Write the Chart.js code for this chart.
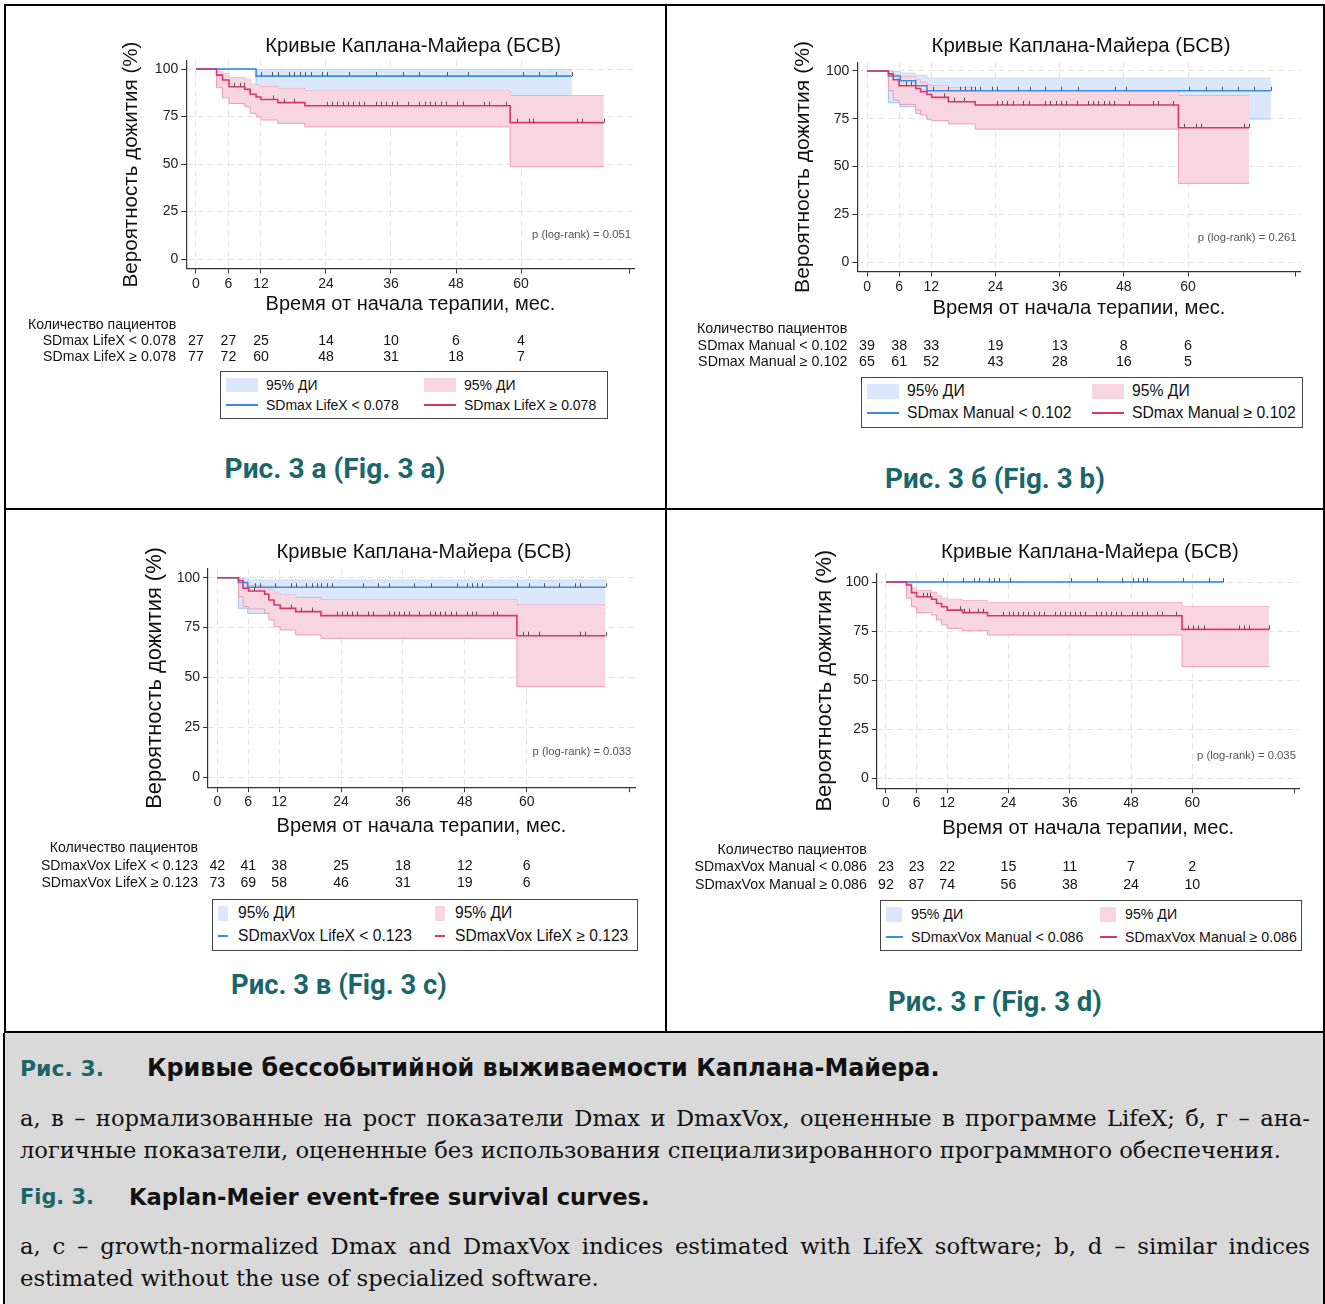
<!DOCTYPE html>
<html lang="ru">
<head>
<meta charset="utf-8">
<title>Кривые Каплана-Майера (БСВ)</title>
<script src="https://cdn.jsdelivr.net/npm/chart.js@4.4.1/dist/chart.umd.min.js"></script>
<style>
  html, body { margin: 0; padding: 0; background: #fff; }
  body { position: relative; width: 1325px; height: 1304px; overflow: hidden; font-family: "Liberation Sans", Arial, sans-serif; color: #111; }
  canvas { position: absolute; }
  .frame { position: absolute; left: 4px; top: 4px; width: 1317px; height: 1025px; border: 2px solid #000; }
  .vdiv { position: absolute; left: 665px; top: 4px; width: 2px; height: 1029px; background: #000; }
  .hdiv { position: absolute; left: 4px; top: 508px; width: 1321px; height: 2px; background: #000; }
  .capbox { position: absolute; left: 3px; top: 1033px; width: 1318px; height: 275px; background: #d9d9d9; border-left: 2px solid #000; border-right: 2px solid #000; }
  .t { position: absolute; white-space: nowrap; line-height: 1; }
  .mid { transform: translate(-50%, -50%); }
  .lft { transform: translateY(-50%); }
  .lbl { font-family: Roboto, sans-serif; font-weight: 700; color: #19666b; font-size: 24px; }
  .head { font-family: "DejaVu Sans", sans-serif; font-weight: 700; font-size: 22px; color: #111; }
  .teal { color: #19666b; }
  .body { font-family: "DejaVu Serif", serif; font-size: 19px; color: #111; }
  .just { white-space: normal; width: 1290px; text-align: justify; text-align-last: justify; }
  .legend { position: absolute; border: 1px solid #444; background: #fff; box-sizing: border-box; }
  .legend div { position: absolute; white-space: nowrap; line-height: 1; }
</style>
</head>
<body>
<div class="frame"></div>
<div class="vdiv"></div>
<div class="hdiv"></div>
<div class="capbox"></div>

<div class="t lft head teal" id="h1a" style="left:20px;top:1069px">Рис. 3.</div>
<div class="t lft head" id="h1b" style="left:147px;top:1069px">Кривые бессобытийной выживаемости Каплана-Майера.</div>
<div class="t lft body just" id="ru1" style="left:20px;top:1118px">а, в – нормализованные на рост показатели Dmax и DmaxVox, оцененные в программе LifeX; б, г – ана-</div>
<div class="t lft body" id="ru2" style="left:20px;top:1150px">логичные показатели, оцененные без использования специализированного программного обеспечения.</div>
<div class="t lft head teal" id="h2a" style="left:20px;top:1197px">Fig. 3.</div>
<div class="t lft head" id="h2b" style="left:129px;top:1197px">Kaplan-Meier event-free survival curves.</div>
<div class="t lft body just" id="en1" style="left:20px;top:1246px">a, c – growth-normalized Dmax and DmaxVox indices estimated with LifeX software; b, d – similar indices</div>
<div class="t lft body" id="en2" style="left:20px;top:1278px">estimated without the use of specialized software.</div>

<script>
const FONT = '"Liberation Sans", Arial, sans-serif';

const chartTitle = 'Кривые Каплана-Майера (БСВ)';
const xTitle = 'Время от начала терапии, мес.';
const yTitle = 'Вероятность дожития (%)';
const riskHeader = 'Количество пациентов';
const ciLabel = '95% ДИ';

const xTickValues = [0, 6, 12, 24, 36, 48, 60, 80];
const yTickValues = [0, 25, 50, 75, 100];
const riskTimes = [0, 6, 12, 24, 36, 48, 60];
const pValues = ['0.051', '0.261', '0.033', '0.035'];
const panelCaptions = ['Рис. 3 а (Fig. 3 a)', 'Рис. 3 б (Fig. 3 b)', 'Рис. 3 в (Fig. 3 c)', 'Рис. 3 г (Fig. 3 d)'];

// Рис. 3 а — SDmax LifeX
const aLabels = ['SDmax LifeX < 0.078', 'SDmax LifeX ≥ 0.078'];
const aRiskLow = [27, 27, 25, 14, 10, 6, 4];
const aRiskHigh = [77, 72, 60, 48, 31, 18, 7];
const aLowT = [0, 11.1, 69.4];
const aLowS = [100, 96.3, 96.3];
const aLowU = [100, 99.5, 99.5];
const aLowL = [100, 76.5, 76.5];
const aLowC = [12.0, 14.0, 15.1, 17.2, 18.1, 19.2, 20.1, 21.2, 23.3, 24.2, 28.2, 33.2, 38.3, 41.2, 46.3, 50.3, 60.4, 63.4, 66.4, 69.4];
const aHighT = [0, 3.8, 4.9, 6.1, 9.0, 10.0, 11.1, 12.0, 15.1, 20.1, 58.0, 75.3];
const aHighS = [100, 96.8, 94.2, 90.7, 89.3, 86.7, 85.3, 84.0, 82.3, 80.7, 71.8, 71.8];
const aHighU = [100, 98.9, 97.7, 95.4, 94.7, 92.0, 91.5, 90.7, 89.8, 88.4, 86.0, 86.0];
const aHighL = [100, 90.2, 84.9, 81.9, 80.2, 76.7, 74.9, 73.2, 71.4, 69.6, 48.6, 48.6];
const aHighC = [7.1, 8.1, 8.9, 14.2, 16.2, 18.1, 24.1, 25.1, 26.1, 27.1, 28.1, 29.0, 30.1, 31.1, 33.2, 34.2, 35.1, 36.1, 37.2, 39.1, 41.2, 42.2, 43.2, 44.2, 45.2, 46.2, 48.1, 49.2, 53.2, 54.1, 57.2, 59.3, 61.4, 62.3, 70.4, 71.3, 75.3];

// Рис. 3 б — SDmax Manual
const bLabels = ['SDmax Manual < 0.102', 'SDmax Manual ≥ 0.102'];
const bRiskLow = [39, 38, 33, 19, 13, 8, 6];
const bRiskHigh = [65, 61, 52, 43, 28, 16, 5];
const bLowT = [0, 4.0, 6.2, 9.1, 11.2, 75.5];
const bLowS = [100, 97.4, 94.9, 92.3, 89.7, 89.7];
const bLowU = [100, 99.6, 98.8, 97.4, 96.2, 96.2];
const bLowL = [100, 83.4, 81.3, 77.8, 74.9, 74.9];
const bLowC = [12.3, 15.2, 17.4, 18.3, 19.4, 20.2, 21.2, 23.3, 24.2, 28.3, 30.5, 33.3, 36.2, 39.4, 46.4, 48.4, 60.1, 63.4, 66.4, 69.4, 72.3, 75.5];
const bHighT = [0, 4.0, 4.9, 6.0, 9.1, 10.0, 11.2, 12.1, 15.2, 20.2, 58.2, 71.4];
const bHighS = [100, 98.5, 95.4, 92.3, 90.8, 89.2, 87.7, 86.2, 83.9, 82.2, 70.3, 70.3];
const bHighU = [100, 99.6, 97.9, 97.0, 95.3, 93.9, 92.7, 92.1, 91.3, 89.5, 87.1, 87.1];
const bHighL = [100, 89.7, 84.8, 82.5, 79.6, 77.0, 74.7, 74.0, 72.3, 69.6, 41.2, 41.2];
const bHighC = [7.3, 8.3, 14.3, 16.3, 18.2, 24.2, 25.2, 26.2, 27.2, 29.2, 30.2, 33.3, 34.2, 35.3, 36.2, 37.2, 39.2, 41.3, 42.3, 43.2, 44.3, 45.3, 46.2, 49.0, 53.4, 54.3, 57.1, 59.3, 61.4, 62.4, 70.5, 71.4];

// Рис. 3 в — SDmaxVox LifeX
const cLabels = ['SDmaxVox LifeX < 0.123', 'SDmaxVox LifeX ≥ 0.123'];
const cRiskLow = [42, 41, 38, 25, 18, 12, 6];
const cRiskHigh = [73, 69, 58, 46, 31, 19, 6];
const cLowT = [0, 4.1, 5.9, 75.3];
const cLowS = [100, 97.6, 95.2, 95.2];
const cLowU = [100, 99.7, 98.7, 98.7];
const cLowL = [100, 84.7, 82.1, 82.1];
const cLowC = [7.3, 8.3, 11.2, 14.2, 15.2, 17.3, 18.3, 19.3, 20.2, 21.3, 22.3, 28.3, 31.2, 33.3, 38.2, 41.4, 46.4, 48.4, 49.3, 50.3, 51.4, 58.2, 60.4, 63.4, 66.3, 69.4, 70.3, 75.3];
const cHighT = [0, 4.1, 5.0, 6.1, 9.2, 10.0, 11.0, 12.2, 15.2, 20.1, 58.1, 75.3];
const cHighS = [100, 98.6, 94.7, 93.3, 91.7, 88.8, 86.3, 84.6, 83.0, 81.0, 70.9, 70.9];
const cHighU = [100, 99.7, 97.2, 96.0, 94.9, 93.8, 92.2, 91.3, 90.0, 88.8, 86.3, 86.3];
const cHighL = [100, 90.5, 85.5, 84.3, 82.1, 78.8, 75.4, 73.8, 71.3, 69.6, 45.4, 45.4];
const cHighC = [7.2, 14.2, 16.2, 18.3, 23.2, 24.1, 25.1, 26.1, 27.1, 29.3, 30.1, 33.3, 34.3, 35.2, 36.2, 37.2, 39.2, 41.2, 42.2, 43.2, 44.2, 45.3, 46.3, 48.4, 49.3, 50.2, 53.4, 54.3, 59.3, 60.3, 62.3, 70.3, 71.3, 75.3];

// Рис. 3 г — SDmaxVox Manual
const dLabels = ['SDmaxVox Manual < 0.086', 'SDmaxVox Manual ≥ 0.086'];
const dRiskLow = [23, 23, 22, 15, 11, 7, 2];
const dRiskHigh = [92, 87, 74, 56, 38, 24, 10];
const dLowT = [0, 66.1];
const dLowS = [100, 100];
const dLowU = [100, 100];
const dLowL = [100, 100];
const dLowC = [11.1, 15.1, 17.2, 18.3, 20.2, 21.2, 22.2, 24.2, 36.2, 41.3, 46.2, 48.3, 49.3, 50.3, 51.2, 58.1, 63.2, 66.1];
const dHighT = [0, 4.0, 5.0, 6.0, 8.9, 9.9, 10.9, 12.0, 15.0, 19.9, 58.0, 75.1];
const dHighS = [100, 98.5, 94.6, 92.5, 91.2, 89.1, 87.4, 85.7, 84.4, 82.8, 75.9, 75.9];
const dHighU = [100, 99.3, 96.8, 95.6, 94.6, 92.9, 91.7, 91.2, 90.5, 89.5, 87.4, 87.4];
const dHighL = [100, 91.7, 87.4, 84.4, 83.2, 80.7, 78.1, 76.4, 75.2, 73.0, 56.9, 56.9];
const dHighC = [7.2, 8.1, 8.7, 14.4, 15.3, 16.3, 18.1, 19.1, 23.0, 24.0, 24.9, 25.9, 26.9, 27.9, 28.9, 30.0, 31.0, 33.1, 34.1, 35.1, 36.0, 37.0, 38.0, 39.0, 41.1, 42.1, 43.0, 44.0, 45.1, 46.0, 48.1, 49.1, 50.1, 51.1, 53.1, 54.1, 56.9, 59.2, 60.2, 61.2, 62.2, 69.2, 70.2, 71.2, 75.1];

const blueLine = '#3a8de6', redLine = '#d8346f';
const blueFill = '#dbe8fb', redFill = '#f8d6e1';
const blueEdge = '#97c4f4', redEdge = '#ee9cb8';
const gridColor = '#e3e3e3', axisColor = '#333';

const groups = [
  { low: { t: aLowT, s: aLowS, u: aLowU, l: aLowL, c: aLowC }, high: { t: aHighT, s: aHighS, u: aHighU, l: aHighL, c: aHighC }, labels: aLabels, risk: [aRiskLow, aRiskHigh] },
  { low: { t: bLowT, s: bLowS, u: bLowU, l: bLowL, c: bLowC }, high: { t: bHighT, s: bHighS, u: bHighU, l: bHighL, c: bHighC }, labels: bLabels, risk: [bRiskLow, bRiskHigh] },
  { low: { t: cLowT, s: cLowS, u: cLowU, l: cLowL, c: cLowC }, high: { t: cHighT, s: cHighS, u: cHighU, l: cHighL, c: cHighC }, labels: cLabels, risk: [cRiskLow, cRiskHigh] },
  { low: { t: dLowT, s: dLowS, u: dLowU, l: dLowL, c: dLowC }, high: { t: dHighT, s: dHighS, u: dHighU, l: dHighL, c: dHighC }, labels: dLabels, risk: [dRiskLow, dRiskHigh] }
];

// page geometry of each panel (px)
const panels = [
  { cx: 7, cy: 7, cw: 657, ch: 366, L: 186.2, R: 634.8, T: 60.5, B: 268.5,
    titleX: 413, titleY: 46, titleW: 296, xTitleY: 304, xTitleW: 290, yTitleX: 131, yTitleW: 246,
    riskY: [325, 341, 357], riskFont: 14.1, pY: 12.6,
    leg: { x: 220, y: 371, w: 388, h: 48, rows: [384.5, 405], sx: [226, 424], sw: 32, sh: 14, lw: 32, tx: [266, 464], font: 14 },
    cap: { cx: 335, cy: 469, w: 221 } },
  { cx: 668, cy: 7, cw: 655, ch: 371, L: 857.4, R: 1300.4, T: 62.4, B: 271.6,
    titleX: 1081, titleY: 46, titleW: 299, xTitleY: 308, xTitleW: 293, yTitleX: 803, yTitleW: 252,
    riskY: [329, 346, 362], riskFont: 14.3, pY: 12.6,
    leg: { x: 861, y: 377, w: 442, h: 51, rows: [391, 413], sx: [867, 1092], sw: 32, sh: 15, lw: 32, tx: [907, 1132], font: 15.7 },
    cap: { cx: 995, cy: 479, w: 220 } },
  { cx: 7, cy: 511, cw: 657, ch: 386, L: 208, R: 635, T: 568.7, B: 787.2,
    titleX: 424, titleY: 552, titleW: 295, xTitleY: 826, xTitleW: 290, yTitleX: 155, yTitleW: 262,
    riskY: [848, 866, 883], riskFont: 14.1, pY: 12.6,
    leg: { x: 212, y: 899, w: 426, h: 52, rows: [913, 936], sx: [218, 435], sw: 10, sh: 15, lw: 10, tx: [238, 455], font: 15.6 },
    cap: { cx: 339, cy: 986, w: 216 } },
  { cx: 668, cy: 511, cw: 655, ch: 386, L: 876.8, R: 1299.5, T: 573.2, B: 788.2,
    titleX: 1090, titleY: 552, titleW: 298, xTitleY: 828, xTitleW: 292, yTitleX: 825, yTitleW: 262,
    riskY: [850, 867, 885], riskFont: 14.2, pY: 11.4,
    leg: { x: 880, y: 900, w: 422, h: 51, rows: [914, 937], sx: [886, 1100], sw: 16, sh: 15, lw: 17, tx: [911, 1125], font: 14.2 },
    cap: { cx: 995, cy: 1002, w: 214 } }
];

const measureCtx = document.createElement('canvas').getContext('2d');
function fitFont(text, width) {
  measureCtx.font = '20px ' + FONT;
  return 20 * width / measureCtx.measureText(text).width;
}

function stepData(t, v) {
  return t.map((x, i) => ({ x: x, y: v[i] }));
}

function survAt(grp, time) {
  let v = grp.s[0];
  for (let i = 0; i < grp.t.length; i++) {
    if (grp.t[i] <= time + 1e-9) v = grp.s[i];
  }
  return v;
}

function extras(p, g, idx, titleSize) {
  return {
    id: 'kmExtras' + idx,
    afterDatasetsDraw(chart) {
      const ctx = chart.ctx, xs = chart.scales.x, ys = chart.scales.y;
      ctx.save();
      ctx.strokeStyle = '#555';
      ctx.lineWidth = 1;
      [g.low, g.high].forEach(grp => {
        grp.c.forEach(tc => {
          const x = Math.round(xs.getPixelForValue(tc)) + 0.5;
          const y = ys.getPixelForValue(survAt(grp, tc));
          ctx.beginPath();
          ctx.moveTo(x, y);
          ctx.lineTo(x, y - 4);
          ctx.stroke();
        });
      });
      ctx.restore();
    },
    afterDraw(chart) {
      const ctx = chart.ctx, xs = chart.scales.x, ys = chart.scales.y;
      ctx.save();
      ctx.fillStyle = '#111';
      ctx.textBaseline = 'middle';
      // title
      ctx.textAlign = 'center';
      ctx.font = titleSize + 'px ' + FONT;
      ctx.fillText(chartTitle, p.titleX - p.cx, p.titleY - p.cy);
      // p value
      ctx.fillStyle = '#555';
      ctx.textAlign = 'right';
      ctx.font = '11.3px ' + FONT;
      ctx.fillText('p (log-rank) = ' + pValues[idx], xs.getPixelForValue(80.3), ys.getPixelForValue(p.pY));
      // number at risk
      ctx.fillStyle = '#111';
      ctx.font = p.riskFont + 'px ' + FONT;
      const lx = chart.chartArea.left - 10;
      ctx.fillText(riskHeader, lx, p.riskY[0] - p.cy);
      ctx.fillText(g.labels[0], lx, p.riskY[1] - p.cy);
      ctx.fillText(g.labels[1], lx, p.riskY[2] - p.cy);
      ctx.textAlign = 'center';
      riskTimes.forEach((t, i) => {
        const x = xs.getPixelForValue(t);
        ctx.fillText(String(g.risk[0][i]), x, p.riskY[1] - p.cy);
        ctx.fillText(String(g.risk[1][i]), x, p.riskY[2] - p.cy);
      });
      ctx.restore();
    }
  };
}

function lineSet(data, color, width, order, fill, bg) {
  return {
    data: data, borderColor: color, borderWidth: width, backgroundColor: bg || 'rgba(0,0,0,0)',
    fill: fill || false, stepped: 'before', pointRadius: 0, tension: 0, order: order
  };
}

function makeChart(p, g, idx) {
  const canvas = document.createElement('canvas');
  canvas.width = p.cw;
  canvas.height = p.ch;
  canvas.style.left = p.cx + 'px';
  canvas.style.top = p.cy + 'px';
  canvas.style.width = p.cw + 'px';
  canvas.style.height = p.ch + 'px';
  document.body.appendChild(canvas);

  const titleSize = fitFont(chartTitle, p.titleW);
  const xSize = fitFont(xTitle, p.xTitleW);
  const ySize = fitFont(yTitle, p.yTitleW);
  const yW = p.L - (p.yTitleX - ySize * 0.6);
  const xH = p.xTitleY + xSize * 0.6 - p.B;
  const pad = {
    left: p.L - yW - p.cx,
    top: p.T - p.cy,
    right: p.cx + p.cw - p.R,
    bottom: p.cy + p.ch - p.B - xH
  };

  const datasets = [
    lineSet(stepData(g.low.t, g.low.u), blueEdge, 1, 7),
    lineSet(stepData(g.low.t, g.low.l), blueEdge, 1, 6, '-1', blueFill),
    lineSet(stepData(g.high.t, g.high.u), redEdge, 1, 5),
    lineSet(stepData(g.high.t, g.high.l), redEdge, 1, 4, '-1', redFill),
    lineSet(stepData(g.low.t, g.low.s), blueLine, 1.6, 2),
    lineSet(stepData(g.high.t, g.high.s), redLine, 1.6, 1)
  ];

  new Chart(canvas, {
    type: 'line',
    data: { datasets: datasets },
    options: {
      responsive: false,
      animation: false,
      devicePixelRatio: 1,
      events: [],
      layout: { padding: pad },
      plugins: { legend: { display: false }, tooltip: { enabled: false }, title: { display: false } },
      scales: {
        x: {
          type: 'linear', min: -1.8, max: 81,
          afterBuildTicks: s => { s.ticks = xTickValues.map(v => ({ value: v })); },
          afterFit: s => { s.height = xH; },
          ticks: { autoSkip: false, maxRotation: 0, padding: 2, color: '#222', font: { family: FONT, size: 14 },
                   callback: v => (v === 80 ? '' : String(v)) },
          grid: { color: c => (c.tick && c.tick.value === 80 ? 'rgba(0,0,0,0)' : gridColor), lineWidth: 1,
                  tickLength: 5, tickColor: axisColor, tickWidth: 1 },
          border: { display: true, color: axisColor, width: 1.2, dash: [6, 4] },
          title: { display: true, text: xTitle, color: '#111', padding: 0, font: { family: FONT, size: xSize } }
        },
        y: {
          type: 'linear', min: -5, max: 104.5,
          afterBuildTicks: s => { s.ticks = yTickValues.map(v => ({ value: v })); },
          afterFit: s => { s.width = yW; },
          ticks: { padding: 3, color: '#222', font: { family: FONT, size: 14 } },
          grid: { color: gridColor, lineWidth: 1, tickLength: 5, tickColor: axisColor, tickWidth: 1 },
          border: { display: true, color: axisColor, width: 1.2, dash: [6, 4] },
          title: { display: true, text: yTitle, color: '#111', padding: 0, font: { family: FONT, size: ySize } }
        }
      }
    },
    plugins: [extras(p, g, idx, titleSize)]
  });
}

function el(parent, css, text) {
  const d = document.createElement('div');
  Object.assign(d.style, css);
  if (text !== undefined) d.textContent = text;
  parent.appendChild(d);
  return d;
}

function makeLegend(p, g) {
  const L = p.leg;
  const box = el(document.body, { left: L.x + 'px', top: L.y + 'px', width: L.w + 'px', height: L.h + 'px' });
  box.className = 'legend';
  const fills = [blueFill, redFill], lines = [blueLine, redLine];
  for (let k = 0; k < 2; k++) {
    el(box, { left: (L.sx[k] - L.x - 1) + 'px', top: (L.rows[0] - L.sh / 2 - L.y - 1) + 'px',
              width: L.sw + 'px', height: L.sh + 'px', background: fills[k] });
    el(box, { left: (L.tx[k] - L.x - 1) + 'px', top: (L.rows[0] - L.y - 1) + 'px', transform: 'translateY(-50%)',
              fontSize: L.font + 'px', color: '#111' }, ciLabel);
    el(box, { left: (L.sx[k] - L.x - 1) + 'px', top: (L.rows[1] - L.y - 1.75) + 'px',
              width: L.lw + 'px', height: '1.5px', background: lines[k] });
    el(box, { left: (L.tx[k] - L.x - 1) + 'px', top: (L.rows[1] - L.y - 1) + 'px', transform: 'translateY(-50%)',
              fontSize: L.font + 'px', color: '#111' }, g.labels[k]);
  }
}

function fitEl(node, target) {
  const w = node.getBoundingClientRect().width;
  const fs = parseFloat(getComputedStyle(node).fontSize);
  node.style.fontSize = (fs * target / w) + 'px';
  return fs * target / w;
}

panels.forEach((p, i) => {
  makeChart(p, groups[i], i);
  makeLegend(p, groups[i]);
  const c = el(document.body, { left: p.cap.cx + 'px', top: p.cap.cy + 'px' }, panelCaptions[i]);
  c.className = 't mid lbl';
  fitEl(c, p.cap.w);
});

fitEl(document.getElementById('h1a'), 84);
fitEl(document.getElementById('h1b'), 793);
fitEl(document.getElementById('h2a'), 74);
fitEl(document.getElementById('h2b'), 521);
const ruSize = fitEl(document.getElementById('ru2'), 1262);
document.getElementById('ru1').style.fontSize = ruSize + 'px';
const enSize = fitEl(document.getElementById('en2'), 579);
document.getElementById('en1').style.fontSize = enSize + 'px';
</script>
</body>
</html>
